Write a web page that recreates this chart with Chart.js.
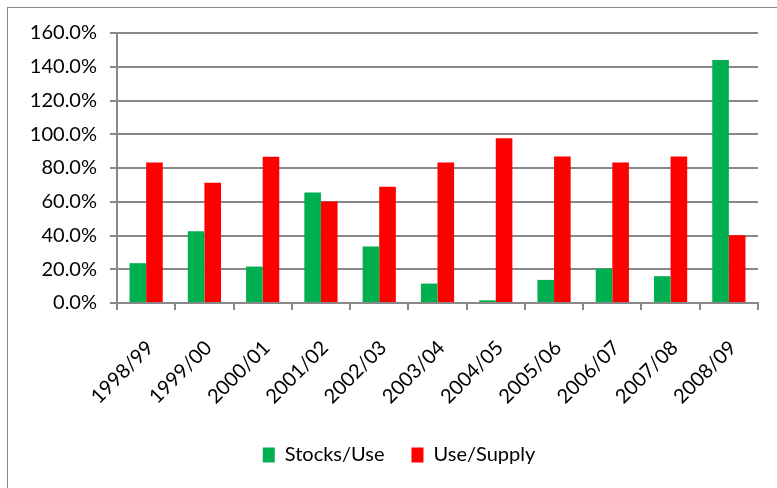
<!DOCTYPE html>
<html>
<head>
<meta charset="utf-8">
<script src="https://cdn.jsdelivr.net/npm/chart.js@4"></script>
<style>
  html, body { margin: 0; padding: 0; background: #ffffff; }
  #wrap { width: 777px; height: 488px; position: relative; }
</style>
</head>
<body>
<div id="wrap"><canvas id="myChart" width="777" height="488"></canvas></div>
<script>
// data
const seasons = ["1998/99", "1999/00", "2000/01", "2001/02", "2002/03", "2003/04",
                 "2004/05", "2005/06", "2006/07", "2007/08", "2008/09"];
const stocksUse = [23.6, 42.5, 21.6, 65.5, 33.5, 11.5, 1.6, 13.7, 20.4, 15.9, 144.0];
const useSupply = [83.2, 71.3, 86.6, 60.2, 68.9, 83.2, 97.7, 86.8, 83.2, 86.8, 40.1];
const seriesNames = ["Stocks/Use", "Use/Supply"];
const yTicks = [0, 20, 40, 60, 80, 100, 120, 140, 160];

const gridGray = "#888888";
const fontFamily = "Lato, 'Open Sans', sans-serif";

// outer frame of the chart, cut off at the right and bottom like the picture
const framePlugin = {
    id: "frame",
    afterLayout(chart) {
        chart.legend.left += 26; // legend sits a bit right of centre in the picture
    },
    beforeDraw(chart) {
        const ctx = chart.ctx;
        ctx.save();
        ctx.fillStyle = "#ffffff";
        ctx.fillRect(0, 0, chart.width, chart.height);
        ctx.strokeStyle = gridGray;
        ctx.lineWidth = 1;
        ctx.strokeRect(7.5, 7.5, chart.width + 10, chart.height + 10);
        ctx.restore();
    }
};

function init() {
    const canvas = document.getElementById("myChart");

    new Chart(canvas, {
        type: "bar",
        data: {
            labels: seasons,
            datasets: [
                { label: seriesNames[0], data: stocksUse, backgroundColor: "#00B050" },
                { label: seriesNames[1], data: useSupply, backgroundColor: "#FF0000" }
            ]
        },
        options: {
            responsive: false,
            animation: false,
            layout: { padding: { left: 14, right: 19, top: 33, bottom: 13 } },
            datasets: { bar: { categoryPercentage: 0.57, barPercentage: 1.0 } },
            scales: {
                x: {
                    grid: { display: true, drawOnChartArea: false, drawTicks: true, tickLength: 7, color: gridGray, lineWidth: 2, offset: true },
                    border: { color: gridGray, width: 2 },
                    ticks: {
                        minRotation: 45, maxRotation: 45, color: "#000000", padding: 26, labelOffset: 4,
                        font: { family: fontFamily, size: 20 }
                    },
                    afterFit(scale) { scale.height = 115; }
                },
                y: {
                    min: 0, max: 160,
                    afterBuildTicks(scale) { scale.ticks = yTicks.map(v => ({ value: v })); },
                    grid: { color: gridGray, lineWidth: 2, tickLength: 7, drawTicks: true },
                    border: { color: gridGray, width: 2 },
                    ticks: {
                        color: "#000000", padding: 13,
                        font: { family: fontFamily, size: 20 },
                        callback: v => v.toFixed(1) + "%"
                    },
                    afterFit(scale) { scale.width = 103; }
                }
            },
            plugins: {
                legend: {
                    position: "bottom",
                    labels: {
                        boxWidth: 12, boxHeight: 15, padding: 27, color: "#000000",
                        font: { family: fontFamily, size: 20 }
                    }
                },
                tooltip: { enabled: false }
            }
        },
        plugins: [framePlugin]
    });
}

document.addEventListener("DOMContentLoaded", init);
</script>
</body>
</html>
